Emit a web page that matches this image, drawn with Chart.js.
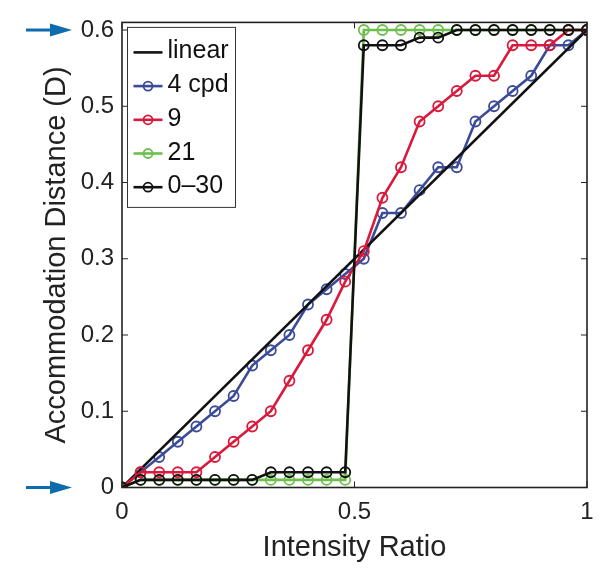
<!DOCTYPE html>
<html>
<head>
<meta charset="utf-8">
<script src="https://cdn.jsdelivr.net/npm/chart.js@4.4.1/dist/chart.umd.min.js"></script>
<style>
  html, body { margin: 0; padding: 0; background: #fff; }
  #wrap { width: 612px; height: 576px; }
</style>
</head>
<body>
<div id="wrap"><canvas id="accomChart" width="612" height="576"></canvas></div>
<script>
'use strict';

// x positions (intensity ratio) - 0.5 itself is not sampled
const intensity = [0, 0.04, 0.08, 0.12, 0.16, 0.20, 0.24, 0.28, 0.32, 0.36, 0.40, 0.44, 0.48,
                   0.52, 0.56, 0.60, 0.64, 0.68, 0.72, 0.76, 0.80, 0.84, 0.88, 0.92, 0.96, 1.0];

// accommodation distance (D) per condition
const cpd4  = [0, 0.02, 0.04, 0.06, 0.08, 0.10, 0.12, 0.16, 0.18, 0.20, 0.24, 0.26, 0.28,
               0.30, 0.36, 0.36, 0.39, 0.42, 0.42, 0.48, 0.50, 0.52, 0.54, 0.58, 0.58, 0.60];
const cpd9  = [0, 0.02, 0.02, 0.02, 0.02, 0.04, 0.06, 0.08, 0.10, 0.14, 0.18, 0.22, 0.27,
               0.31, 0.38, 0.42, 0.48, 0.50, 0.52, 0.54, 0.54, 0.58, 0.58, 0.58, 0.60, 0.60];
const cpd21 = [0, 0.01, 0.01, 0.01, 0.01, 0.01, 0.01, 0.01, 0.01, 0.01, 0.01, 0.01, 0.01,
               0.60, 0.60, 0.60, 0.60, 0.60, 0.60, 0.60, 0.60, 0.60, 0.60, 0.60, 0.60, 0.60];
const cpd030 = [0, 0.01, 0.01, 0.01, 0.01, 0.01, 0.01, 0.01, 0.02, 0.02, 0.02, 0.02, 0.02,
                0.58, 0.58, 0.58, 0.59, 0.59, 0.60, 0.60, 0.60, 0.60, 0.60, 0.60, 0.60, 0.60];
const linearX = [0, 1];
const linearY = [0, 0.6];

const seriesLabels = ['linear', '4 cpd', '9', '21', '0\u201330'];
const xTicks = [0, 0.5, 1];
const yTicks = [0, 0.1, 0.2, 0.3, 0.4, 0.5, 0.6];
const arrowAt = [0, 0.6];

const FONT = "'Liberation Sans', Arial, Helvetica, sans-serif";
const INK = '#222';
const MARK_R = 5;

const toPts = (xs, ys) => xs.map((x, i) => ({ x, y: ys[i] }));
const fmt = (v) => String(+Number(v).toFixed(2));

function series(label, ys, color, order, xs) {
  return {
    label,
    data: toPts(xs || intensity, ys),
    borderColor: color,
    borderWidth: 2.6,
    pointRadius: xs ? 0 : MARK_R,
    pointBorderWidth: 1.8,
    pointBorderColor: color,
    pointBackgroundColor: 'rgba(0,0,0,0)',
    tension: 0,
    order
  };
}

// frame, inward ticks, side arrows, boxed legend
const decorations = {
  id: 'decorations',
  afterDraw(chart) {
    const { ctx, chartArea: a, scales } = chart;
    const xs = scales.x, ys = scales.y;
    ctx.save();

    // inward ticks on all four sides
    ctx.strokeStyle = INK;
    ctx.lineWidth = 1;
    const tl = 6;
    ctx.beginPath();
    xTicks.forEach(v => {
      const px = xs.getPixelForValue(v);
      ctx.moveTo(px, a.bottom); ctx.lineTo(px, a.bottom - tl);
      ctx.moveTo(px, a.top); ctx.lineTo(px, a.top + tl);
    });
    yTicks.forEach(v => {
      const py = ys.getPixelForValue(v);
      ctx.moveTo(a.left, py); ctx.lineTo(a.left + tl, py);
      ctx.moveTo(a.right, py); ctx.lineTo(a.right - tl, py);
    });
    ctx.stroke();

    // box
    ctx.lineWidth = 1.6;
    ctx.strokeRect(a.left, a.top, a.right - a.left, a.bottom - a.top);

    // blue arrows marking 0 and 0.6
    ctx.fillStyle = '#0e6cae';
    ctx.strokeStyle = '#0e6cae';
    arrowAt.forEach(v => {
      const py = ys.getPixelForValue(v);
      ctx.lineWidth = 3;
      ctx.beginPath();
      ctx.moveTo(26, py); ctx.lineTo(52, py);
      ctx.stroke();
      ctx.beginPath();
      ctx.moveTo(50, py - 6.5); ctx.lineTo(72, py); ctx.lineTo(50, py + 6.5);
      ctx.closePath();
      ctx.fill();
    });

    // legend
    const lx = a.left + 5.5, ly = a.top + 5, lw = 108, lh = 180;
    ctx.fillStyle = '#fff';
    ctx.fillRect(lx, ly, lw, lh);
    ctx.strokeStyle = '#333';
    ctx.lineWidth = 1;
    ctx.strokeRect(lx, ly, lw, lh);
    ctx.font = '25px ' + FONT;
    ctx.textBaseline = 'alphabetic';
    ctx.textAlign = 'left';
    chart.data.datasets.forEach((ds, i) => {
      const rowY = ly + 25 + i * 33.7;
      ctx.strokeStyle = ds.borderColor;
      ctx.lineWidth = 2.6;
      ctx.beginPath();
      ctx.moveTo(lx + 6, rowY); ctx.lineTo(lx + 35, rowY);
      ctx.stroke();
      if (ds.pointRadius > 0) {
        ctx.lineWidth = 1.8;
        ctx.beginPath();
        ctx.arc(lx + 20.5, rowY, MARK_R - 0.5, 0, Math.PI * 2);
        ctx.stroke();
      }
      ctx.fillStyle = '#111';
      ctx.fillText(ds.label, lx + 40, rowY + 6);
    });

    ctx.restore();
  }
};

const el = document.getElementById('accomChart');
new Chart(el.getContext('2d'), {
  type: 'line',
  data: {
    datasets: [
      series(seriesLabels[0], linearY, '#111111', 2, linearX),
      series(seriesLabels[1], cpd4, '#3b4b98', 3),
      series(seriesLabels[2], cpd9, '#d91a3c', 1),
      series(seriesLabels[3], cpd21, '#6cbf4d', 4),
      series(seriesLabels[4], cpd030, '#111111', 0)
    ]
  },
  options: {
    responsive: false,
    animation: false,
    layout: { padding: { top: 22, right: 25, left: 0, bottom: 0 } },
    plugins: {
      legend: { display: false },
      tooltip: { enabled: false }
    },
    scales: {
      x: {
        type: 'linear',
        min: 0, max: 1,
        afterFit: (s) => { s.height = 88.5; },
        afterBuildTicks: (s) => { s.ticks = xTicks.map(v => ({ value: v })); },
        grid: { display: false, drawTicks: false },
        border: { display: false },
        ticks: { padding: 10, color: INK, font: { family: FONT, size: 24 }, callback: fmt, maxRotation: 0 },
        title: { display: true, text: 'Intensity Ratio', color: INK, font: { family: FONT, size: 29 }, padding: { top: 11, bottom: 11 } }
      },
      y: {
        type: 'linear',
        min: 0, max: 0.61,
        afterFit: (s) => { s.width = 122; },
        afterBuildTicks: (s) => { s.ticks = yTicks.map(v => ({ value: v })); },
        grid: { display: false, drawTicks: false },
        border: { display: false },
        ticks: { padding: 8, color: INK, font: { family: FONT, size: 24 }, callback: fmt },
        title: { display: true, text: 'Accommodation Distance (D)', color: INK, font: { family: FONT, size: 29 }, padding: { top: 40, bottom: 40 } }
      }
    }
  },
  plugins: [decorations]
});
</script>
</body>
</html>
